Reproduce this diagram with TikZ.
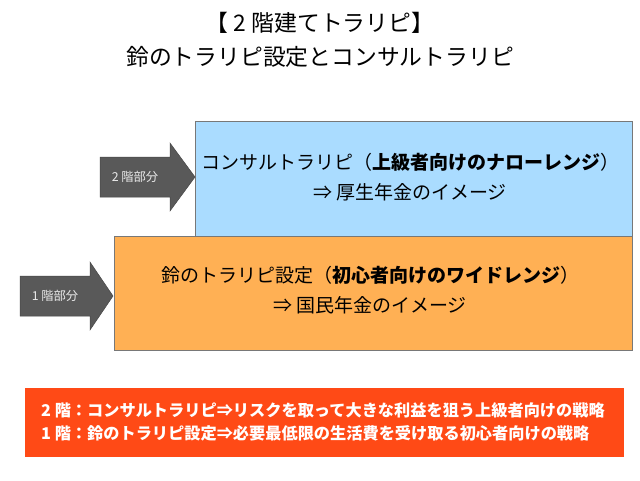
\documentclass[tikz,border=0pt]{standalone}
\usepackage{fontspec}
\setmainfont{Noto Sans CJK JP}
\newfontfamily\jp{Noto Sans CJK JP}
\definecolor{skyfill}{RGB}{170,220,255}
\definecolor{orangefill}{RGB}{255,176,84}
\definecolor{redfill}{RGB}{255,74,22}
\definecolor{arrowfill}{RGB}{89,89,89}
\definecolor{boxline}{RGB}{120,120,120}
\tikzset{
  layerbox/.style={draw=boxline, line width=0.8pt, rectangle, inner sep=0pt, anchor=north west},
  arrowshape/.style={fill=arrowfill, draw=arrowfill!80!black, line width=0.5pt},
  arrowlabel/.style={text=white!92!black, font=\jp\fontsize{12.3}{14}\selectfont, inner sep=0pt},
  boxtext/.style={font=\jp\fontsize{19}{30}\selectfont, align=center, inner sep=0pt},
  titletext/.style={font=\jp\fontsize{22.8}{34}\selectfont, align=center, inner sep=0pt},
  notetext/.style={font=\jp\bfseries\fontsize{16.2}{22.5}\selectfont, text=white, align=left, inner sep=0pt, anchor=west}
}
\begin{document}
\begin{tikzpicture}[x=1pt,y=-1pt]
\useasboundingbox (0,0) rectangle (640,480);
\fill[white] (0,0) rectangle (640,480);
% title
\node[titletext] (title) at (320,40) {【 2 階建てトラリピ】\\鈴のトラリピ設定とコンサルトラリピ};
% boxes
\node[layerbox, fill=skyfill, minimum width=437pt, minimum height=115pt] (upper) at (195,121) {};
\node[layerbox, fill=orangefill, minimum width=518pt, minimum height=114pt] (lower) at (114,236) {};
\node[boxtext] (uppertext) at (410,177) {コンサルトラリピ（\textbf{上級者向けのナローレンジ}）\\⇒ 厚生年金のイメージ};
\node[boxtext] (lowertext) at (370,290) {鈴のトラリピ設定（\textbf{初心者向けのワイドレンジ}）\\⇒ 国民年金のイメージ};
% arrows
\draw[arrowshape] (100,157) -- (170,157) -- (170,143) -- (195,177) -- (170,211) -- (170,197) -- (100,197) -- cycle;
\node[arrowlabel] (arrow2) at (135,177) {2 階部分};
\draw[arrowshape] (20,276) -- (90,276) -- (90,262) -- (113,296) -- (90,330) -- (90,316) -- (20,316) -- cycle;
\node[arrowlabel] (arrow1) at (55,296) {1 階部分};
% note box
\fill[redfill] (25,388) rectangle (624,457);
\node[notetext] (note) at (41,422) {2 階：コンサルトラリピ⇒リスクを取って大きな利益を狙う上級者向けの戦略\\1 階：鈴のトラリピ設定⇒必要最低限の生活費を受け取る初心者向けの戦略};
\end{tikzpicture}
\end{document}
